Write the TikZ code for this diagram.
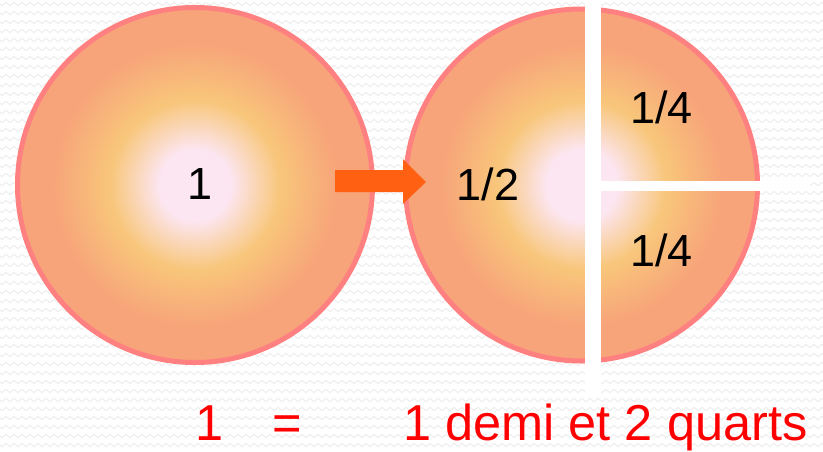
\documentclass[tikz,border=0pt]{standalone}
\usepackage{fontspec}
\setmainfont{Liberation Sans}
\usetikzlibrary{decorations.pathmorphing}
\definecolor{cCore}{HTML}{FCE6F2}
\definecolor{cYel}{HTML}{F8C67A}
\definecolor{cSal}{HTML}{F7A47A}
\definecolor{cRim}{HTML}{FF8080}
\definecolor{cArrow}{HTML}{FF6011}
\definecolor{cZig}{HTML}{EDEDED}
\pgfdeclareradialshading{disk}{\pgfpoint{0bp}{0bp}}{color(0bp)=(cCore); color(5bp)=(cCore); color(12bp)=(cYel); color(20bp)=(cSal); color(25bp)=(cSal); color(50bp)=(cSal)}
\tikzset{
  bgz/.style={draw=cZig, line width=1pt, decorate, decoration={zigzag, segment length=8pt, amplitude=1.6pt}},
  diskstyle/.style={shading=disk, draw=cRim, line width=5pt},
  frac/.style={font=\fontsize{45}{50}\selectfont, text=black, inner sep=0pt},
  eq/.style={font=\fontsize{50.5}{56}\selectfont, text=red, inner sep=0pt},
  gap/.style={fill=white, draw=none}
}
\begin{document}
\begin{tikzpicture}[x=1pt, y=-1pt]
\useasboundingbox (0,0) rectangle (823,451);
\fill[white] (0,0) rectangle (823,451);
\foreach \yy in {4,13,...,451} { \path[bgz] (-4,\yy) -- (830,\yy); }
% whole
\shade[diskstyle] (195,185) circle (177.5);
% half + quarters
\shade[diskstyle] (581.5,185) circle (176);
% white cuts
\fill[gap] (585,0) rectangle (601,395);
\fill[gap] (601,181) rectangle (810,191);
% arrow
\fill[cArrow] (335,170) -- (403,170) -- (403,159) -- (426,182) -- (403,204) -- (403,192) -- (335,192) -- cycle;
% labels
\node[frac] (one) at (200,184) {1};
\node[frac] (half) at (488,184) {1/2};
\node[frac] (q1) at (661.5,107.5) {1/4};
\node[frac] (q2) at (661.5,250.5) {1/4};
\node[eq, anchor=base west] (lone) at (195,440) {1};
\node[eq, anchor=base] (leq) at (287,440) {=};
\node[eq, anchor=base west] (lrest) at (403,440) {1 demi et 2 quarts};
\end{tikzpicture}
\end{document}
